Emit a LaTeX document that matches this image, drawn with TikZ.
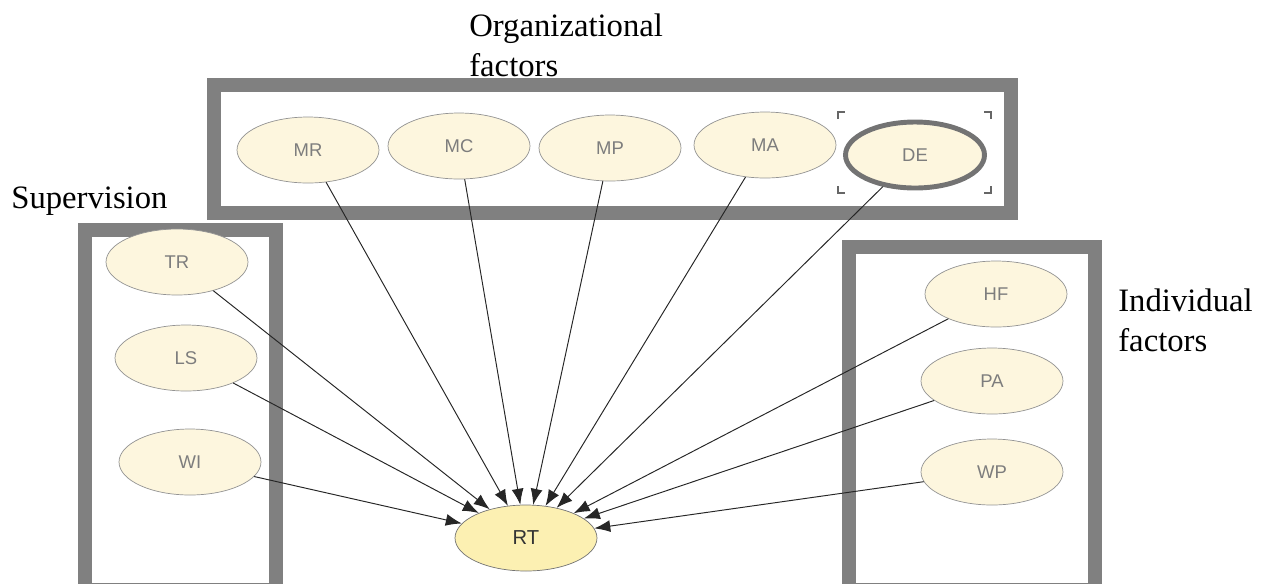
\documentclass[tikz,border=0pt]{standalone}
\usepackage{fontspec}
\setmainfont{Liberation Serif}
\newfontfamily\varfont{Liberation Sans}
\usetikzlibrary{arrows.meta}
\usetikzlibrary{shapes.geometric}
\definecolor{boxgray}{RGB}{128,128,128}
\definecolor{cream}{RGB}{253,246,222}
\definecolor{rtfill}{RGB}{252,240,178}
\definecolor{vartext}{RGB}{125,125,125}

\begin{document}
\begin{tikzpicture}[x=0.02cm,y=-0.02cm,
    var/.style={ellipse,draw=gray!85,fill=cream,inner sep=0pt,minimum width=2.84cm,minimum height=1.32cm,
        font=\varfont\fontsize{10.5}{12}\selectfont,text=vartext},
    group/.style={draw=boxgray,line width=7.8pt},
    title/.style={font=\fontsize{18.6}{23}\selectfont,align=left,anchor=north west,inner sep=0pt},
    link/.style={-{Latex[length=0.32cm,width=0.24cm]},line width=0.55pt,draw=black!85}]
    \useasboundingbox (0,0) rectangle (1265,583);

    % 分组框
    \draw[group] (214,85) rectangle (1011,213);
    \draw[group] (85,230) rectangle (276,590);
    \draw[group] (849,247) rectangle (1095,590);

    \node[title] (orgtitle) at (469,13) {Organizational\\factors};
    \node[title] (suptitle) at (11,187) {Supervision};
    \node[title] (indtitle) at (1118,288) {Individual\\factors};

    % 组织因素
    \node[var] (MR) at (308,150) {MR};
    \node[var] (MC) at (459,146) {MC};
    \node[var] (MP) at (610,148) {MP};
    \node[var] (MA) at (765,145) {MA};
    \node[var, draw=gray!90!black, line width=2.8pt, minimum width=2.78cm] (DE) at (915,155) {DE};
    \draw[gray!80!black, line width=0.6pt] (838,119) -- (838,112) -- (845,112)
        (984,112) -- (991,112) -- (991,119)
        (838,186) -- (838,193) -- (845,193)
        (984,193) -- (991,193) -- (991,186);

    % 监督
    \node[var] (TR) at (177,262) {TR};
    \node[var] (LS) at (186,358) {LS};
    \node[var] (WI) at (190,462) {WI};

    % 个人因素
    \node[var] (HF) at (996,294) {HF};
    \node[var] (PA) at (992,381) {PA};
    \node[var] (WP) at (992,472) {WP};

    \node[var, fill=rtfill, text=black!80, draw=gray!90!black, font=\varfont\fontsize{11.5}{13}\selectfont] (RT) at (526,538) {RT};

    \foreach \s in {MR,MC,MP,MA,DE,TR,LS,WI,HF,PA,WP}
        \draw[link] (\s) -- (RT);
\end{tikzpicture}
\end{document}
